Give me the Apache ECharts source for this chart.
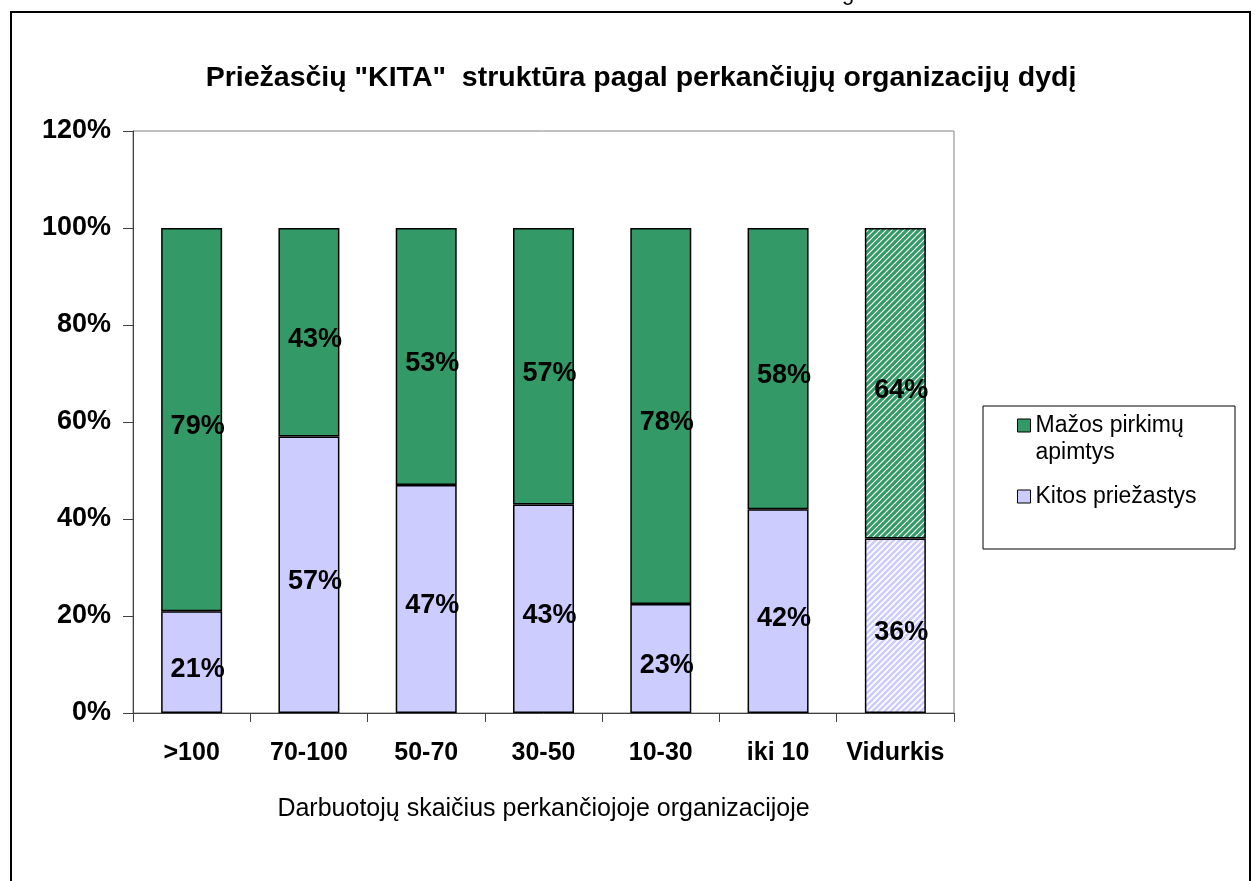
<!DOCTYPE html>
<html>
<head>
<meta charset="utf-8">
<script src="https://cdn.jsdelivr.net/npm/echarts@6/dist/echarts.min.js"></script>
<style>
html,body{margin:0;padding:0;background:#fff;}
#chart{width:1255px;height:881px;}
</style>
</head>
<body>
<div id="chart"></div>
<script>
const categories = ['>100', '70-100', '50-70', '30-50', '10-30', 'iki 10', 'Vidurkis'];
const kitosPriezastys = [21, 57, 47, 43, 22.5, 42, 36];
const mazosApimtys = [79, 43, 53, 57, 77.5, 58, 64];
const yTicks = [0, 20, 40, 60, 80, 100, 120];
const seriesNames = ['Mažos pirkimų\napimtys', 'Kitos priežastys'];
const titleText = 'Priežasčių "KITA"  struktūra pagal perkančiųjų organizacijų dydį';
const xAxisName = 'Darbuotojų skaičius perkančiojoje organizacijoje';

const GREEN = '#339966';
const LAV = '#CCCCFF';
const FONT = '"Liberation Sans", Arial, sans-serif';

function stripePattern(bg, line, lw) {
  const n = 6;
  const c = document.createElement('canvas');
  c.width = n; c.height = n;
  const ctx = c.getContext('2d');
  ctx.fillStyle = bg; ctx.fillRect(0, 0, n, n);
  ctx.strokeStyle = line; ctx.lineWidth = lw;
  ctx.beginPath();
  ctx.moveTo(-1, n + 1); ctx.lineTo(n + 1, -1);
  ctx.moveTo(-1, 1); ctx.lineTo(1, -1);
  ctx.moveTo(n - 1, n + 1); ctx.lineTo(n + 1, n - 1);
  ctx.stroke();
  return { image: c, repeat: 'repeat' };
}
const greenHatch = stripePattern(GREEN, '#ffffff', 1.2);
const lavHatch = stripePattern('#ffffff', LAV, 2.6);

function buildData(values, solid, hatch) {
  return values.map((v, i) => ({
    value: v,
    itemStyle: { color: categories[i] === 'Vidurkis' ? hatch : solid }
  }));
}

const labelCfg = {
  show: true,
  position: 'inside',
  offset: [6, 7],
  color: '#000',
  fontFamily: FONT,
  fontWeight: 'bold',
  fontSize: 27,
  formatter: p => Math.round(p.value) + '%'
};

const chart = echarts.init(document.getElementById('chart'));
chart.setOption({
  animation: false,
  backgroundColor: '#ffffff',
  title: {
    text: titleText,
    left: 636,
    textAlign: 'center',
    top: 59,
    textStyle: { fontFamily: FONT, fontWeight: 'bold', fontSize: 28.5, color: '#000' }
  },
  legend: {
    orient: 'vertical',
    left: 1012,
    top: 380,
    icon: 'rect',
    itemWidth: 13,
    itemHeight: 13,
    itemGap: 17,
    data: [seriesNames[0], seriesNames[1]],
    formatter: name => name.indexOf('\n') >= 0 ? ' \n' + name : name,
    textStyle: { fontFamily: FONT, fontSize: 23, color: '#000', lineHeight: 27 },
    itemStyle: { borderColor: '#000', borderWidth: 1 }
  },
  grid: {
    left: 133, right: 301, top: 131, bottom: 168,
    show: true, borderColor: '#808080', borderWidth: 1, backgroundColor: 'transparent'
  },
  xAxis: {
    type: 'category',
    data: categories,
    name: xAxisName,
    nameLocation: 'middle',
    nameGap: 84,
    nameTextStyle: { fontFamily: FONT, fontSize: 25, color: '#000' },
    axisLine: { lineStyle: { color: '#404040', width: 1 } },
    axisTick: { show: true, length: 9, lineStyle: { color: '#404040' } },
    axisLabel: { interval: 0, fontFamily: FONT, fontWeight: 'bold', fontSize: 25, color: '#000', margin: 28 },
    splitLine: { show: false }
  },
  yAxis: {
    type: 'value',
    min: yTicks[0],
    max: yTicks[yTicks.length - 1],
    interval: yTicks[1] - yTicks[0],
    axisLine: { show: true, lineStyle: { color: '#404040', width: 1 } },
    axisTick: { show: true, length: 10, lineStyle: { color: '#404040' } },
    axisLabel: { fontFamily: FONT, fontWeight: 'bold', fontSize: 27, color: '#000', margin: 22, formatter: '{value}%' },
    splitLine: { show: false }
  },
  series: [
    {
      name: seriesNames[1],
      type: 'bar',
      stack: 'total',
      barWidth: '52%',
      itemStyle: { color: LAV, borderColor: '#000', borderWidth: 1.5 },
      label: labelCfg,
      data: buildData(kitosPriezastys, LAV, lavHatch)
    },
    {
      name: seriesNames[0],
      type: 'bar',
      stack: 'total',
      barWidth: '52%',
      itemStyle: { color: GREEN, borderColor: '#000', borderWidth: 1.5 },
      label: labelCfg,
      data: buildData(mazosApimtys, GREEN, greenHatch)
    }
  ],
  graphic: [
    {
      type: 'rect',
      shape: { x: 11, y: 12, width: 1239, height: 900 },
      style: { fill: 'none', stroke: '#000', lineWidth: 2 },
      z: -1
    },
    {
      type: 'rect',
      shape: { x: 983, y: 406, width: 252, height: 143 },
      style: { fill: 'none', stroke: '#000', lineWidth: 1 },
      z: 10
    },
    {
      type: 'text',
      x: 842,
      y: -17,
      style: { text: 'g', fontFamily: FONT, fontSize: 22, fill: '#000' }
    }
  ]
});
</script>
</body>
</html>
